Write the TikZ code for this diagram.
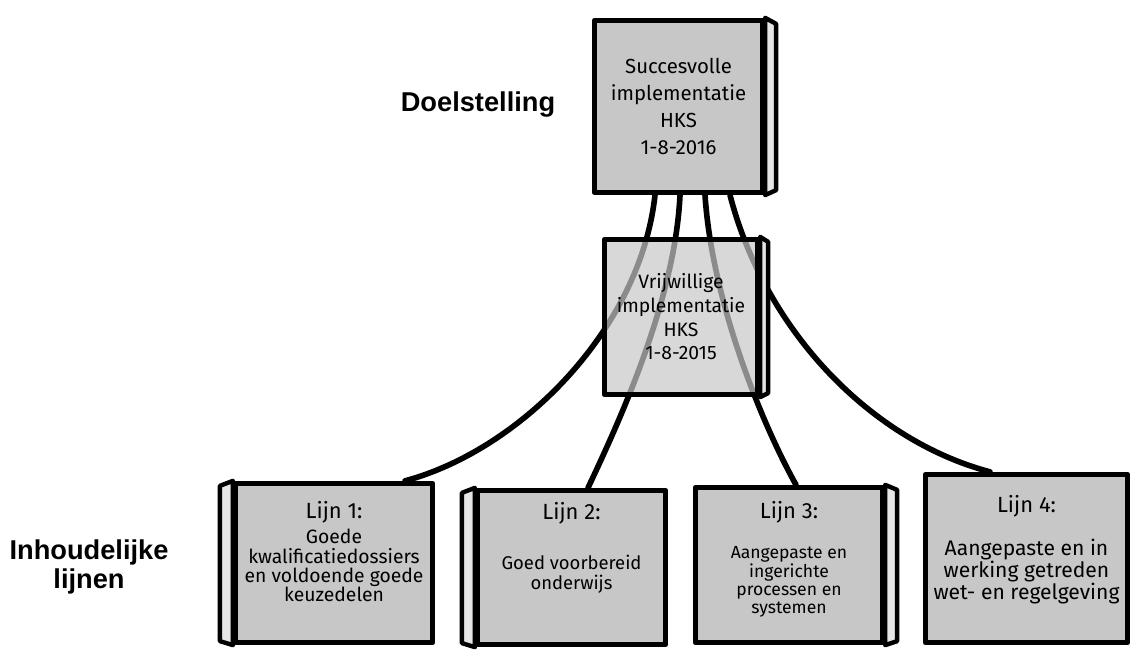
\documentclass[tikz,border=0pt]{standalone}
\usepackage{fontspec}
\setmainfont{Fira Sans}
\newfontfamily\kopfont{Liberation Sans}
\usetikzlibrary{backgrounds}

\newcommand{\kop}[1]{{\fontsize{12.5}{14}\selectfont #1}}

\tikzset{
	box/.style={draw=black, fill=black!22, line width=3pt, line join=round, align=center, inner sep=2pt},
	side/.style={draw=black, fill=black!10, line width=2.5pt, line join=round},
	link/.style={line width=3.2pt, line cap=round},
	title/.style={font=\kopfont\bfseries\fontsize{15.5}{17}\selectfont, align=center}
}

\begin{document}
\begin{tikzpicture}
	\useasboundingbox (0,0) rectangle (22.7,13);
	
	\node[title] (doel) at (9.56, 10.9) {Doelstelling};
	\node[title] (lijnen) at (1.78, 1.66) {Inhoudelijke\\lijnen};
	
	\node[box, minimum width=3.36cm, minimum height=3.44cm, font=\fontsize{11.6}{15.5}\selectfont] (top) at (13.57, 10.87) {Succesvolle\\implementatie\\HKS\\1-8-2016};
	\node[box, minimum width=3.06cm, minimum height=3.1cm, fill opacity=0.7, text opacity=1, font=\fontsize{11}{13.5}\selectfont] (mid) at (13.62, 6.66) {Vrijwillige\\implementatie\\HKS\\1-8-2015};
	
	\node[box, minimum width=3.94cm, minimum height=3.18cm, font=\fontsize{11}{11}\selectfont] (l1) at (6.68, 1.74) {\kop{Lijn 1:}\\[3.5pt]Goede\\kwalificatiedossiers\\en voldoende goede\\keuzedelen\\[2pt]\mbox{}};
	\node[box, minimum width=3.76cm, minimum height=3.08cm, font=\fontsize{10.5}{11.5}\selectfont] (l2) at (11.43, 1.65) {\kop{Lijn 2:}\\[17pt]Goed voorbereid\\onderwijs\\[13pt]\mbox{}};
	\node[box, minimum width=3.74cm, minimum height=3.1cm, font=\fontsize{10}{10.5}\selectfont] (l3) at (15.78, 1.70) {\kop{Lijn 3:}\\[12.5pt]Aangepaste en\\ingerichte\\processen en\\systemen\\[-2pt]\mbox{}};
	\node[box, minimum width=4.04cm, minimum height=3.36cm, font=\fontsize{12}{12.5}\selectfont] (l4) at (20.53, 1.83) {\kop{Lijn 4:}\\[12pt]Aangepaste en in\\werking getreden\\wet- en regelgeving\\\mbox{}};
	
	% zijkanten
	\draw[side] (top.north east) -- ++(0.22,-0.12) -- ([shift={(0.22,0.1)}]top.south east) -- (top.south east) -- cycle;
	\draw[side] (mid.north east) -- ++(0.16,-0.1) -- ([shift={(0.16,0.08)}]mid.south east) -- (mid.south east) -- cycle;
	\draw[side] (l1.north west) -- ++(-0.26,-0.1) -- ([shift={(-0.26,0.08)}]l1.south west) -- (l1.south west) -- cycle;
	\draw[side] (l2.north west) -- ++(-0.26,-0.1) -- ([shift={(-0.26,0.08)}]l2.south west) -- (l2.south west) -- cycle;
	\draw[side] (l3.north east) -- ++(0.24,-0.1) -- ([shift={(0.24,0.08)}]l3.south east) -- (l3.south east) -- cycle;
	
	\begin{scope}[on background layer]
		\draw[link] ([xshift=-0.47cm]top.south) .. controls (12.8, 6.4) and (10.4, 4.0) .. ([xshift=1.42cm]l1.north);
		\draw[link] ([xshift=0.03cm]top.south) .. controls (13.5, 7.0) and (12.4, 4.6) .. ([xshift=0.33cm]l2.north);
		\draw[link] ([xshift=0.53cm]top.south) .. controls (14.24, 7.0) and (15.2, 4.6) .. ([xshift=0.14cm]l3.north);
		\draw[link] ([xshift=1.03cm]top.south) .. controls (15.3, 6.4) and (17.4, 4.2) .. ([xshift=-0.73cm]l4.north);
	\end{scope}
\end{tikzpicture}
\end{document}
